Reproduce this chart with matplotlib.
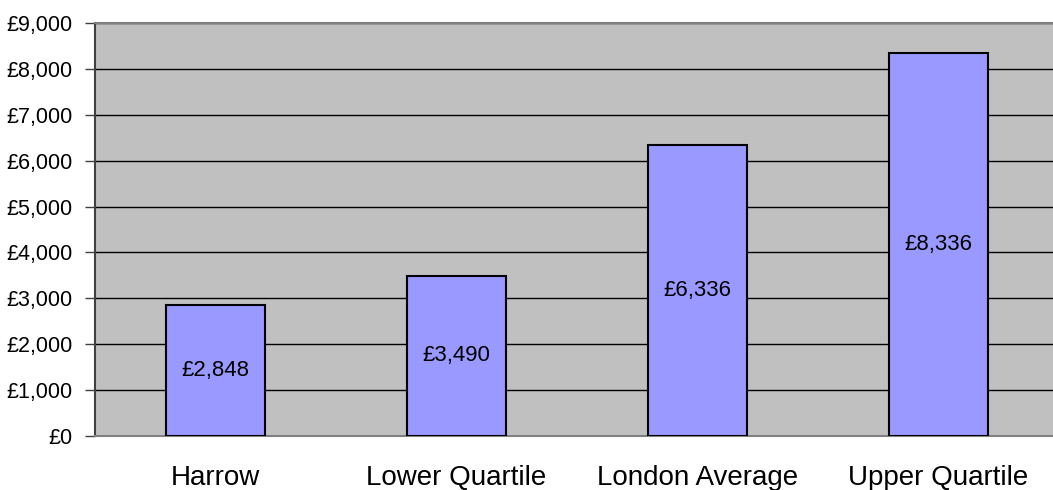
import matplotlib
matplotlib.use('Agg')
import matplotlib.pyplot as plt
import matplotlib.ticker as mticker

plt.rcParams['font.family'] = ['Liberation Sans', 'DejaVu Sans']

categories = ['Harrow', 'Lower Quartile', 'London Average', 'Upper Quartile']
values = [2848, 3490, 6336, 8336]

fig = plt.figure(figsize=(10.53, 4.90), dpi=100)
ax = fig.add_axes([95 / 1053, 54 / 490, 964 / 1053, 413 / 490])
ax.set_facecolor('#C0C0C0')

x = range(len(categories))
bars = ax.bar(x, values, width=0.41, color='#9999FF', edgecolor='black',
              linewidth=1.5, zorder=3)
for xi, v in zip(x, values):
    ax.text(xi, v / 2, f'£{v:,}', ha='center', va='center', fontsize=16, zorder=4)

ax.set_xlim(-0.5, 3.5)
ax.set_ylim(0, 9000)
ax.set_yticks(range(0, 9001, 1000))
ax.yaxis.set_major_formatter(mticker.FuncFormatter(lambda v, _: f'£{int(v):,}'))
ax.grid(axis='y', color='black', linewidth=1, zorder=1)

ax.set_xticks(list(x))
ax.set_xticklabels(categories, fontsize=20)
ax.tick_params(axis='x', length=0, pad=21)
ax.tick_params(axis='y', labelsize=15.5, length=7, width=1, color='#404040', pad=9)

ax.spines['top'].set_color('#808080')
ax.spines['top'].set_linewidth(1.5)
ax.spines['left'].set_color('#404040')
ax.spines['left'].set_linewidth(1.5)
ax.spines['bottom'].set_color('#808080')
ax.spines['bottom'].set_linewidth(1.5)
ax.spines['right'].set_visible(False)

fig.savefig('out.png', dpi=100, facecolor='white')
